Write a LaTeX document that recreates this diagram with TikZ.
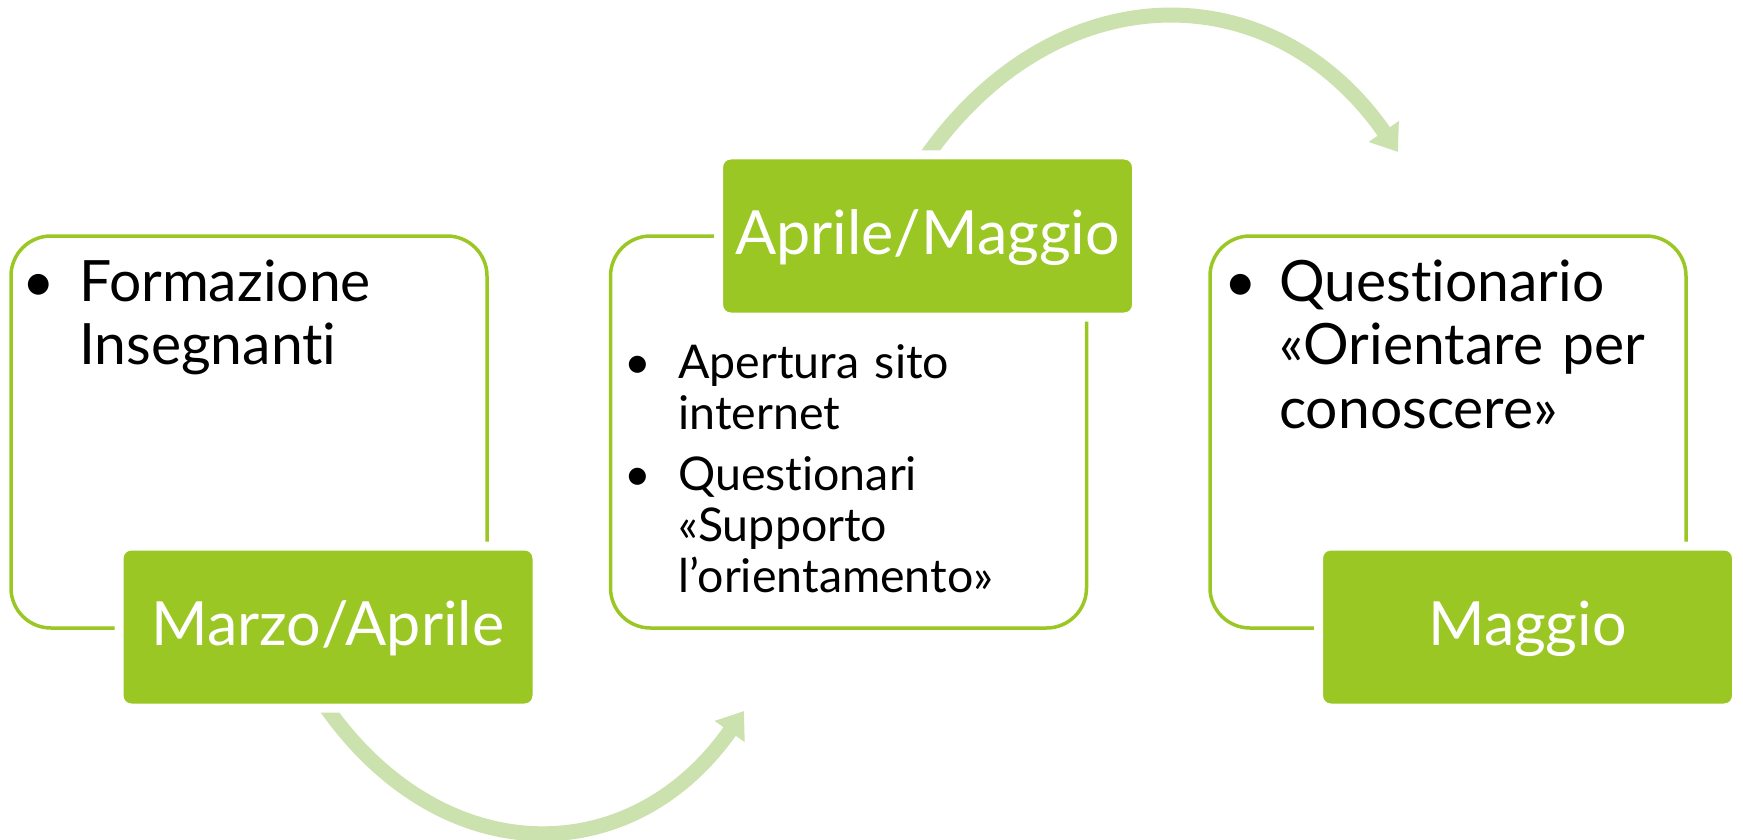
\documentclass[tikz,border=0pt]{standalone}
\usepackage{fontspec}
\setmainfont{Lato}[Ligatures={NoCommon,NoContextual}]
\usetikzlibrary{arrows.meta}
\definecolor{gfill}{RGB}{154,199,36}
\definecolor{garrow}{RGB}{203,225,174}
\begin{document}
\begin{tikzpicture}[x=1pt,y=-1pt,
  wbox/.style={draw=gfill, line width=3.5pt, fill=white, rounded corners=40pt,
    minimum width=476pt, minimum height=392pt, inner sep=0pt},
  gbox/.style={fill=gfill, draw=white, line width=9pt, rounded corners=12pt,
    minimum width=418pt, minimum height=162pt, inner sep=0pt, text=white,
    font=\fontsize{61}{66}\selectfont, text height=36pt, text depth=0pt},
  flow/.style={draw=garrow, line width=15pt, -{Triangle[length=25pt,width=35pt]}},
  bigtxt/.style={anchor=base west, text width=440pt, align=left, inner sep=0pt,
    font=\fontsize{57}{63.5}\selectfont},
  smalltxt/.style={anchor=base west, text width=400pt, align=left, inner sep=0pt,
    font=\fontsize{46.5}{51}\selectfont},
  bulbig/.style={anchor=base, inner sep=0pt, font=\fontsize{56}{60}\selectfont},
  bulsmall/.style={anchor=base, inner sep=0pt, font=\fontsize{46}{50}\selectfont}
]
\useasboundingbox (0,0) rectangle (1743,840);
% arrows
\coordinate (a1s) at (326,707);
\coordinate (a1e) at (744,711);
\coordinate (a2s) at (926,157);
\coordinate (a2e) at (1398,152);
\draw[flow] (a1s) .. controls (442,872) and (631,872) .. (a1e);
\draw[flow] (a2s) .. controls (1056,-28) and (1273,-28) .. (a2e);
% white boxes
\node[wbox] (b1) at (249,432) {};
\node[wbox] (b2) at (848.5,432) {};
\node[wbox] (b3) at (1448,432) {};
% green boxes
\node[gbox] (g1) at (328,627) {Marzo/Aprile};
\node[gbox] (g2) at (927.5,236) {Aprile/Maggio};
\node[gbox] (g3) at (1527.5,627) {Maggio};
% texts
\node[bulbig] (d1) at (39,301) {•};
\node[bigtxt] (t1) at (79,301) {Formazione\\Insegnanti};
\node[bulsmall] (d2a) at (637.5,378) {•};
\node[smalltxt] (t2a) at (678,378) {Apertura sito\\internet};
\node[bulsmall] (d2b) at (637.5,490) {•};
\node[smalltxt] (t2b) at (678,490) {Questionari\\«Supporto\\l’orientamento»};
\node[bulbig] (d3) at (1241,301) {•};
\node[bigtxt] (t3) at (1279,301) {Questionario\\«Orientare per\\conoscere»};
\end{tikzpicture}
\end{document}
